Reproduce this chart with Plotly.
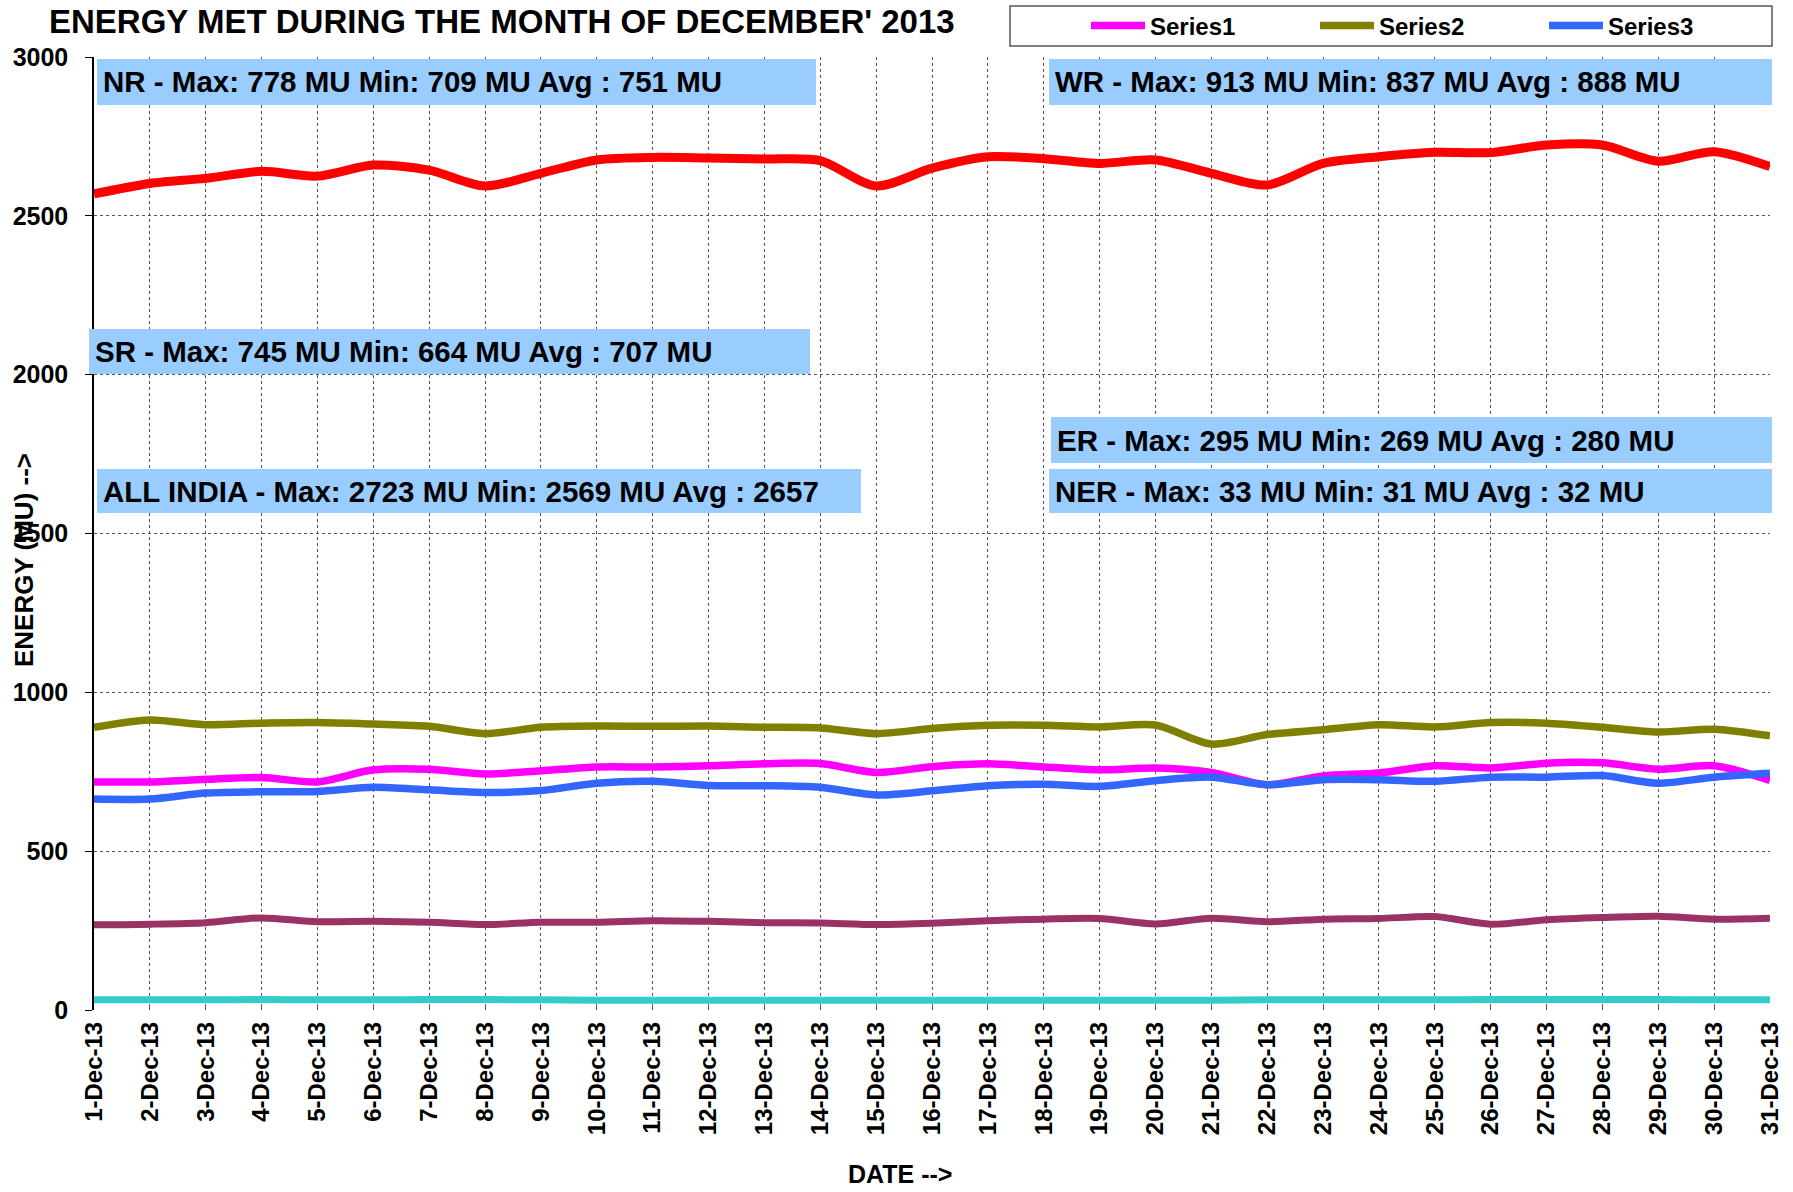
import plotly.graph_objects as go

days = list(range(1, 32))
date_labels = [f"{d}-Dec-13" for d in days]

nr = [718, 718, 726, 732, 718, 756, 758, 743, 753, 765, 765, 769, 775, 776, 748, 766,
      775, 765, 756, 762, 748, 709, 737, 746, 769, 762, 777, 778, 758, 769, 723]
wr = [890, 913, 898, 903, 905, 900, 893, 870, 890, 894, 893, 894, 890, 888, 870, 886,
      896, 896, 891, 897, 837, 867, 882, 898, 891, 905, 903, 890, 875, 884, 863]
sr = [664, 664, 683, 687, 688, 701, 693, 685, 691, 714, 720, 707, 706, 701, 677, 690,
      706, 711, 704, 722, 733, 709, 725, 725, 720, 733, 733, 738, 714, 733, 745]
er = [268, 270, 275, 290, 278, 279, 276, 269, 276, 276, 281, 279, 275, 274, 269, 273,
      281, 286, 288, 271, 289, 278, 286, 288, 294, 270, 284, 291, 295, 286, 289]
ner = [32, 32, 32, 33, 32, 32, 33, 33, 32, 31, 31, 31, 31, 31, 31, 31,
       31, 31, 31, 31, 31, 32, 32, 32, 32, 33, 33, 33, 33, 32, 32]
all_india = [2569, 2602, 2618, 2640, 2625, 2660, 2644, 2594, 2634, 2676, 2684, 2682, 2679, 2674, 2594, 2650,
             2686, 2680, 2665, 2676, 2634, 2597, 2665, 2686, 2700, 2699, 2723, 2723, 2672, 2702, 2655]

series_names = ["Series1", "Series2", "Series3", "Series4", "Series5", "Series6"]
series_values = [nr, wr, sr, er, ner, all_india]

summary_texts = [
    "NR - Max: 778 MU Min: 709 MU Avg : 751 MU",
    "WR - Max: 913 MU Min: 837 MU Avg : 888 MU",
    "SR - Max: 745 MU Min: 664 MU Avg : 707 MU",
    "ER - Max: 295 MU Min: 269 MU Avg : 280 MU",
    "ALL INDIA - Max: 2723 MU Min: 2569 MU Avg : 2657",
    "NER - Max: 33 MU Min: 31 MU Avg : 32 MU",
]

# ---- styling / layout (pixel geometry) ----
colors = ["#FF00FF", "#808000", "#3366FF", "#993366", "#33CCCC", "#FF0000"]
widths = [7.5, 7.5, 7.5, 7, 7, 9]
show_leg = [True, True, True, False, False, False]
# box pixel rects: (left, right, top, bottom)
box_px = [
    (97, 816, 59, 105),
    (1049, 1772, 59, 105),
    (89, 810, 329, 374),
    (1051, 1772, 417, 463),
    (97, 861, 469, 513),
    (1049, 1772, 469, 513),
]
L, R, T, B = 94, 1770, 57, 1010
PW, PH = R - L, B - T


def px(xp):
    return (xp - L) / PW


def py(yp):
    return (B - yp) / PH


FONT = "Liberation Sans, Arial, sans-serif"

fig = go.Figure()
for name, vals, color, w, show in zip(series_names, series_values, colors, widths, show_leg):
    fig.add_trace(go.Scatter(
        x=days, y=vals, name=name, mode="lines",
        line=dict(color=color, width=w, shape="spline", smoothing=0.8),
        showlegend=show,
    ))

shapes = []
annotations = []
for text, (l, r, t, b) in zip(summary_texts, box_px):
    shapes.append(dict(type="rect", xref="paper", yref="paper", x0=px(l), x1=px(r), y0=py(b), y1=py(t),
                       fillcolor="#99CCFF", line=dict(width=0), layer="above"))
    annotations.append(dict(xref="paper", yref="paper", x=px(l), y=py((t + b) / 2), text=text,
                            xanchor="left", yanchor="middle", xshift=4, showarrow=False,
                            font=dict(family=FONT, size=29.5, color="black", weight="bold")))

# legend border
shapes.append(dict(type="rect", xref="paper", yref="paper",
                   x0=px(1010), x1=px(1772), y0=py(46), y1=py(6),
                   line=dict(color="#555555", width=1.5), fillcolor="rgba(0,0,0,0)"))

annotations.append(dict(xref="paper", yref="paper", x=px(24), y=py(560),
                        text="ENERGY (MU) -->", textangle=-90, showarrow=False,
                        xanchor="center", yanchor="middle",
                        font=dict(family=FONT, size=26, color="black", weight="bold")))
annotations.append(dict(xref="paper", yref="paper", x=px(900), y=py(1174),
                        text="DATE -->", showarrow=False, xanchor="center", yanchor="middle",
                        font=dict(family=FONT, size=25, color="black", weight="bold")))

fig.update_layout(
    width=1793, height=1192,
    margin=dict(l=L, r=1793 - R, t=T, b=1192 - B, autoexpand=False),
    paper_bgcolor="white", plot_bgcolor="white",
    title=dict(text="ENERGY MET DURING THE MONTH OF DECEMBER' 2013",
               xref="container", yref="container", x=49 / 1793, xanchor="left",
               y=1 - 21 / 1192, yanchor="middle",
               font=dict(family=FONT, size=33, color="black", weight="bold")),
    shapes=shapes, annotations=annotations,
    legend=dict(orientation="h", xref="container", yref="container",
                x=1086 / 1793, xanchor="left",
                y=1 - 26 / 1192, yanchor="middle",
                bgcolor="rgba(0,0,0,0)", borderwidth=0, entrywidth=160, itemwidth=54,
                font=dict(family=FONT, size=24, color="black", weight="bold")),
    xaxis=dict(range=[1, 31], tickvals=days, ticktext=date_labels, tickangle=-90,
               showgrid=True, gridcolor="#555555", gridwidth=1, griddash="dot",
               zeroline=False, showline=False, ticks="inside", ticklen=6, tickcolor="#555555",
               ticklabelstandoff=6,
               tickfont=dict(family=FONT, size=24, color="black", weight="bold")),
    yaxis=dict(range=[0, 3000], dtick=500, showgrid=True, gridcolor="#555555", gridwidth=1,
               griddash="dot", zeroline=False, showline=True, linecolor="black", linewidth=1.5,
               ticks="outside", ticklen=7, tickcolor="black", ticklabelstandoff=12,
               tickfont=dict(family=FONT, size=25, color="black", weight="bold")),
)

fig.write_html("out.html", config={"displayModeBar": False},
               post_script="document.body.style.margin='0';document.body.style.padding='0';")
